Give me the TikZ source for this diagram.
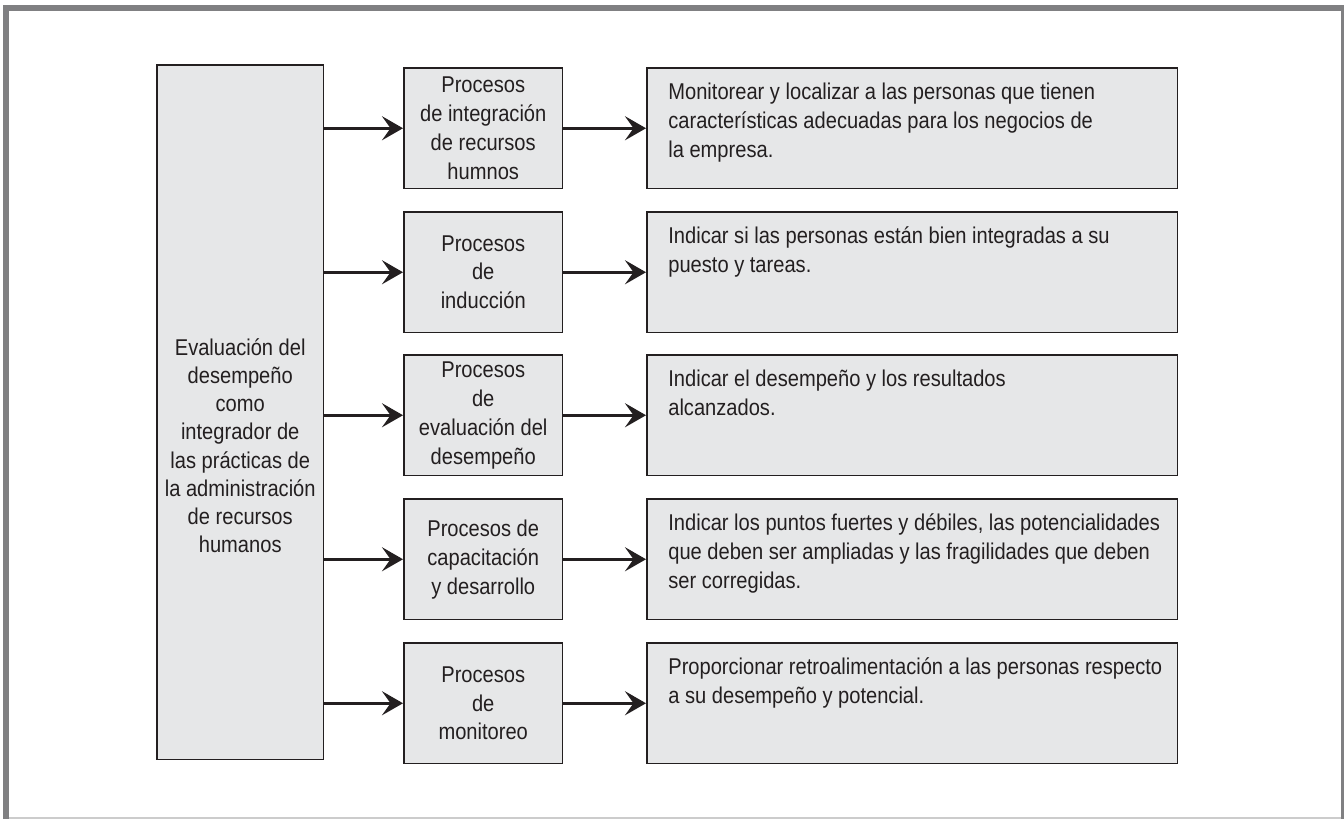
\documentclass[tikz,border=0pt]{standalone}
\usepackage{fontspec}
\setmainfont[FakeStretch=0.88]{Liberation Sans}
\usetikzlibrary{arrows.meta}
\definecolor{f}{RGB}{230,231,232}
\definecolor{k}{RGB}{35,31,32}
\definecolor{m}{RGB}{128,128,130}
\begin{document}
\begin{tikzpicture}[x=.02cm,y=-.02cm,>={Stealth[length=.42cm,width=.48cm,inset=.17cm]},
  every node/.style={font=\fontsize{13}{16.5}\selectfont,text=k},
  bx/.style={draw=k,line width=.03cm,fill=f,anchor=north west,inner sep=0pt},
  mbox/.style={bx,minimum width=3.18cm,minimum height=2.42cm,align=center},
  rbox/.style={bx,minimum width=10.62cm,minimum height=2.42cm},
  rtxt/.style={anchor=north west,align=left,inner sep=0pt},
  ar/.style={->,draw=k,line width=.06cm}]
\useasboundingbox (0,0) rectangle (1344,819);
% frame
\fill[m] (3,5) rectangle (1344,10.5);\fill[m] (3,5) rectangle (9,819);
\fill[m] (1341,5) rectangle (1344,819);\fill[gray!40] (9,817) rectangle (1341,819);
% left box
\node[bx,minimum width=3.34cm,minimum height=13.9cm] (ev) at (156,64){};
\node[align=center,font=\fontsize{13}{16}\selectfont] (evt) at ([yshift=-.67cm]ev.center){Evaluación del\\desempeño\\como\\integrador de\\las prácticas de\\la administración\\de recursos\\humanos};
% middle boxes
\node[mbox] (m1) at (403,67){Procesos\\de integración\\de recursos\\humnos};
\node[mbox] (m2) at (403,211){Procesos\\de\\inducción};
\node[mbox] (m3) at (403,354){Procesos\\de\\evaluación del\\desempeño};
\node[mbox] (m4) at (403,498){Procesos de\\capacitación\\y desarrollo};
\node[mbox] (m5) at (403,642){Procesos\\de\\monitoreo};
% right boxes
\node[rbox] (r1) at (646,67){};\node[rbox] (r2) at (646,211){};\node[rbox] (r3) at (646,354){};
\node[rbox] (r4) at (646,498){};\node[rbox] (r5) at (646,642){};
\node[rtxt] (r1t) at ([xshift=.44cm,yshift=-.24cm]r1.north west){\strut Monitorear y localizar a las personas que tienen\\características adecuadas para los negocios de\\la empresa.};
\node[rtxt] (r2t) at ([xshift=.44cm,yshift=-.24cm]r2.north west){\strut Indicar si las personas están bien integradas a su\\puesto y tareas.};
\node[rtxt] (r3t) at ([xshift=.44cm,yshift=-.24cm]r3.north west){\strut Indicar el desempeño y los resultados\\alcanzados.};
\node[rtxt] (r4t) at ([xshift=.44cm,yshift=-.24cm]r4.north west){\strut Indicar los puntos fuertes y débiles, las potencialidades\\que deben ser ampliadas y las fragilidades que deben\\ser corregidas.};
\node[rtxt] (r5t) at ([xshift=.44cm,yshift=-.24cm]r5.north west){\strut Proporcionar retroalimentación a las personas respecto\\a su desempeño y potencial.};
% arrows
\draw[ar] (m1.west -| ev.east)--(m1.west);\draw[ar] (m1.east)--(r1.west);
\draw[ar] (m2.west -| ev.east)--(m2.west);\draw[ar] (m2.east)--(r2.west);
\draw[ar] (m3.west -| ev.east)--(m3.west);\draw[ar] (m3.east)--(r3.west);
\draw[ar] (m4.west -| ev.east)--(m4.west);\draw[ar] (m4.east)--(r4.west);
\draw[ar] (m5.west -| ev.east)--(m5.west);\draw[ar] (m5.east)--(r5.west);
\end{tikzpicture}
\end{document}
